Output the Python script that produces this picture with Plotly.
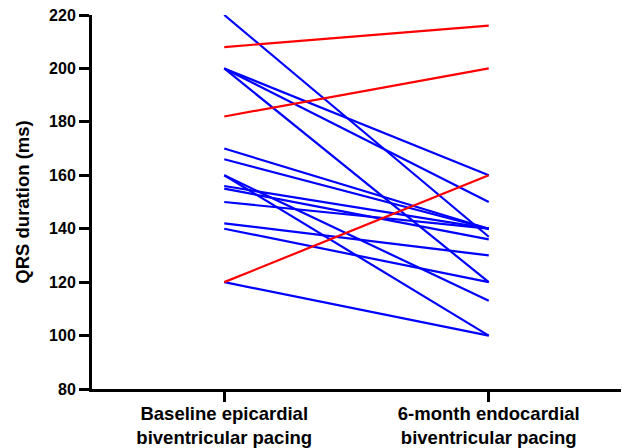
import plotly.graph_objects as go

categories = ["Baseline epicardial<br>biventricular pacing", "6-month endocardial<br>biventricular pacing"]

# Blue patients (QRS shortened)
blue_baseline = [220, 200, 200, 200, 170, 166, 160, 160, 156, 155, 150, 142, 140, 120]
blue_followup = [137, 160, 150, 120, 140, 140, 100, 113, 140, 136, 140, 130, 120, 100]

# Red patients (QRS prolonged)
red_baseline = [208, 182, 120]
red_followup = [216, 200, 160]

y_ticks = [80, 100, 120, 140, 160, 180, 200, 220]

fig = go.Figure()
xpos = [0, 1]
for b, f in zip(blue_baseline, blue_followup):
    fig.add_trace(go.Scatter(x=xpos, y=[b, f], mode="lines",
                             line=dict(color="#0000FF", width=2.2), showlegend=False))
for b, f in zip(red_baseline, red_followup):
    fig.add_trace(go.Scatter(x=xpos, y=[b, f], mode="lines",
                             line=dict(color="#FF0000", width=2.2), showlegend=False))

font_family = "Liberation Sans, Arial, sans-serif"

fig.update_layout(
    width=622, height=448,
    margin=dict(l=92, r=1, t=15, b=59),
    plot_bgcolor="white", paper_bgcolor="white",
    font=dict(family=font_family, color="black"),
)
fig.update_xaxes(
    range=[-0.5, 1.5], tickvals=xpos, ticktext=["<b>" + c + "</b>" for c in categories],
    showgrid=False, zeroline=False, automargin=False,
    showline=True, linecolor="black", linewidth=3,
    ticks="outside", ticklen=10, tickwidth=3, tickcolor="black",
    tickfont=dict(size=18.5, family=font_family, color="black"),
    ticklabelstandoff=-4,
)
fig.update_yaxes(
    range=[80, 220], tickvals=y_ticks, ticktext=["<b>%d</b>" % v for v in y_ticks],
    showgrid=False, zeroline=False, automargin=False,
    showline=True, linecolor="black", linewidth=3,
    ticks="outside", ticklen=10, tickwidth=3, tickcolor="black",
    tickfont=dict(size=16, family=font_family, color="black"),
    title=dict(text="<b>QRS duration (ms)</b>", font=dict(size=18.5, family=font_family, color="black"), standoff=15),
)

fig.write_html("out.html", config={"displayModeBar": False},
               post_script="document.body.style.margin='0';document.body.style.overflow='hidden';")
